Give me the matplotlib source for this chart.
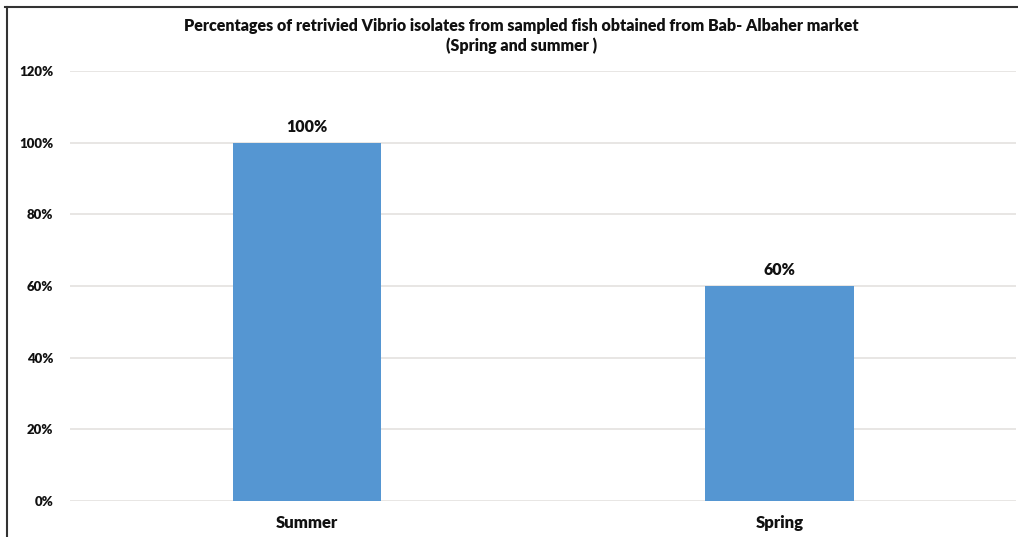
import matplotlib.pyplot as plt
from matplotlib.lines import Line2D
from matplotlib.ticker import PercentFormatter

# data
seasons = ['Summer', 'Spring']
percent = [100, 60]
y_ticks = [0, 20, 40, 60, 80, 100, 120]

plt.rcParams['font.family'] = ['Lato', 'DejaVu Sans']

fig = plt.figure(figsize=(10.18, 5.37), dpi=100)
ax = fig.add_axes([0.0688, 0.067, 0.9292, 0.801])

x = range(len(seasons))
bars = ax.bar(x, percent, width=0.313, color='#5596D2', zorder=3)

#labels above bars
for b, v in zip(bars, percent):
    ax.text(b.get_x() + b.get_width() / 2, v + 2.2, f'{v}%', ha='center', va='bottom',
            fontsize=11.5, fontweight='heavy', color='#111111')

ax.set_xlim(-0.5, 1.5)
ax.set_ylim(0, 120)
ax.set_yticks(y_ticks)
ax.yaxis.set_major_formatter(PercentFormatter(decimals=0))
ax.set_xticks(list(x))
ax.set_xticklabels(seasons)
ax.grid(axis='y', color='#e4e2df', linewidth=1.2, zorder=0)
ax.tick_params(length=0, colors='#111111')
ax.tick_params(axis='y', pad=12, labelsize=9.5)
ax.tick_params(axis='x', pad=10, labelsize=12)
for lbl in ax.get_xticklabels() + ax.get_yticklabels():
    lbl.set_fontweight('heavy')
for s in ax.spines.values():
    s.set_visible(False)

fig.text(0.512, 0.952, 'Percentages of retrivied Vibrio isolates from sampled fish obtained from Bab- Albaher market',
         ha='center', va='center', fontsize=11.5, fontweight='heavy', color='#111111')
fig.text(0.512, 0.914, '(Spring and summer )', ha='center', va='center',
         fontsize=11.5, fontweight='heavy', color='#111111')

# frame lines at top and left
fig.add_artist(Line2D([0.005, 1.0], [0.987, 0.987], color='#333333', linewidth=1.5))
fig.add_artist(Line2D([0.007, 0.007], [0.0, 0.987], color='#333333', linewidth=1.5))

fig.savefig('out.png', dpi=100)
